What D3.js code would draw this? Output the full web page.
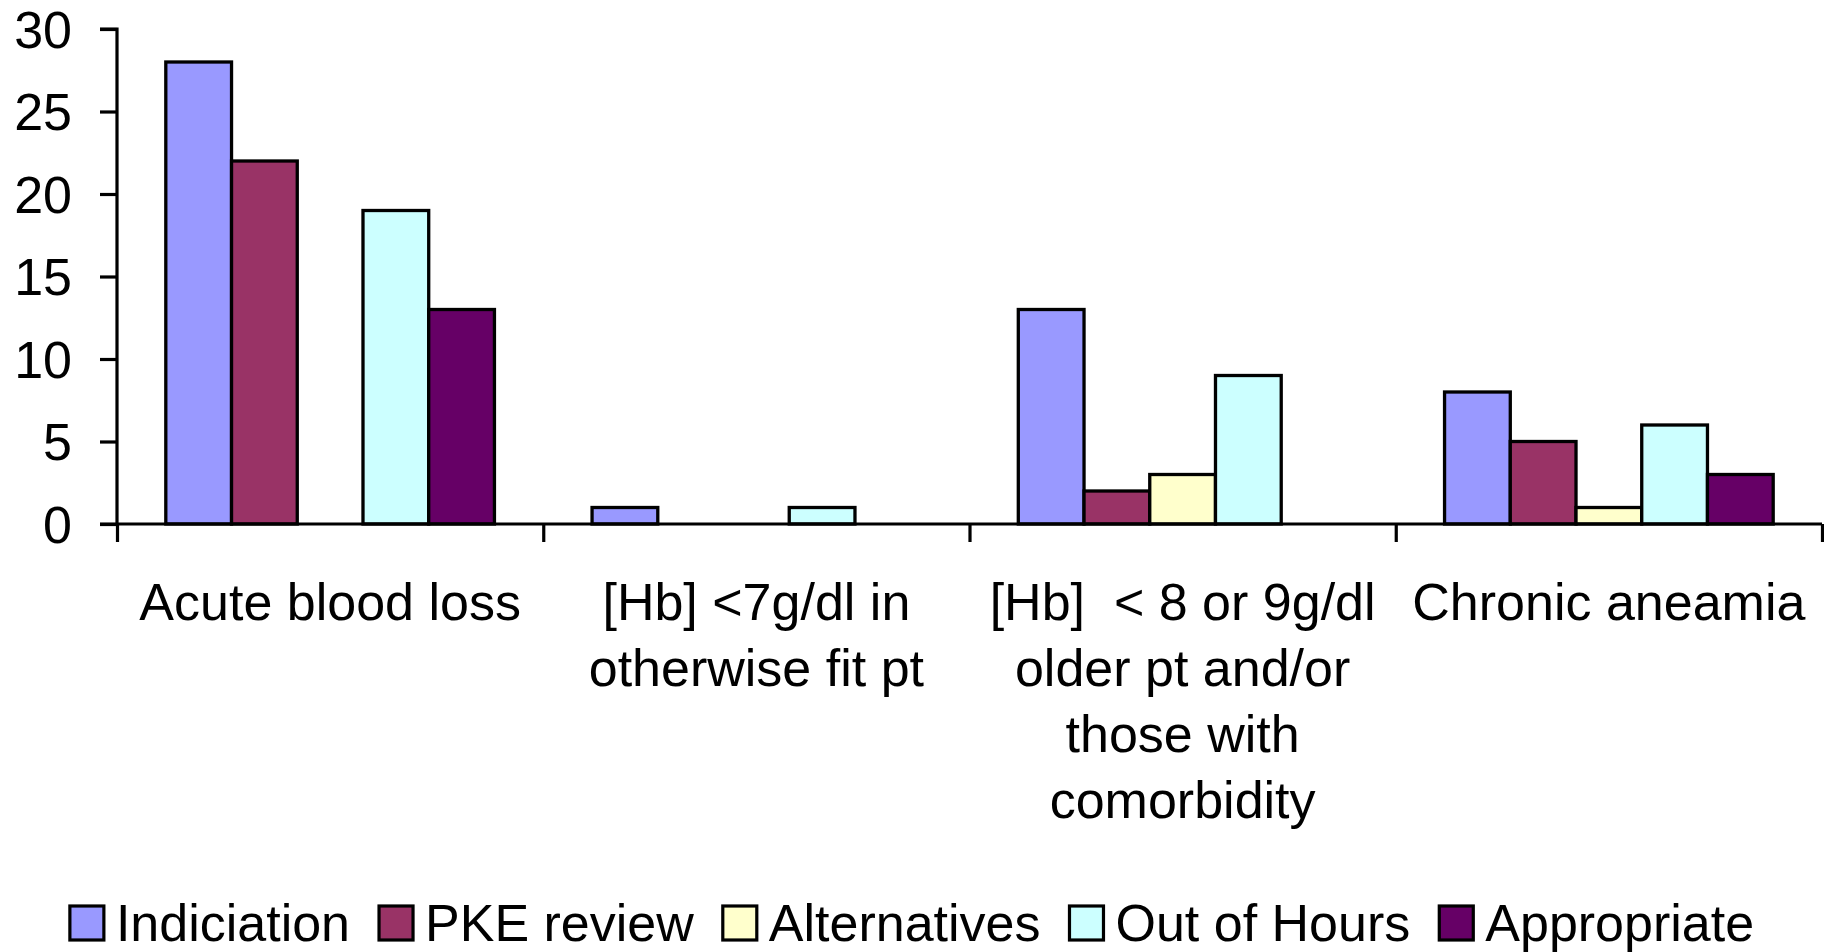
<!DOCTYPE html>
<html>
<head>
<meta charset="utf-8">
<script src="https://cdn.jsdelivr.net/npm/d3@7"></script>
<style>
  html, body { margin: 0; padding: 0; background: #fff; }
  svg { display: block; }
  text { font-family: "Liberation Sans", Arial, sans-serif; fill: #000; }
</style>
</head>
<body>
<svg id="chart" width="1824" height="952"></svg>
<script>
// ---- data ----
const categories = [
  ["Acute blood loss"],
  ["[Hb] <7g/dl in", "otherwise fit pt"],
  ["[Hb]  < 8 or 9g/dl", "older pt and/or", "those with", "comorbidity"],
  ["Chronic aneamia"]
];
const seriesNames = ["Indiciation", "PKE review", "Alternatives", "Out of Hours", "Appropriate"];
const seriesColors = ["#9999FF", "#993366", "#FFFFCC", "#CCFFFF", "#660066"];
const indiciation = [28, 1, 13, 8];
const pkeReview   = [22, 0, 2, 5];
const alternatives = [0, 0, 3, 1];
const outOfHours  = [19, 1, 9, 6];
const appropriate = [13, 0, 0, 3];
const yTicks = [0, 5, 10, 15, 20, 25, 30];

const seriesValues = [indiciation, pkeReview, alternatives, outOfHours, appropriate];

// ---- layout ----
const svg = d3.select("#chart");
const plotLeft = 117, plotRight = 1822, plotTop = 29, plotBottom = 524;
const fontSize = 52;

const catIdx = categories.map((c, i) => i);
const x0 = d3.scaleBand().domain(catIdx).range([plotLeft, plotRight]).padding(0);
const gap = x0.bandwidth() * 0.1145;
const x1 = d3.scaleBand().domain(d3.range(seriesNames.length)).range([gap, x0.bandwidth() - gap]).padding(0);
const y = d3.scaleLinear().domain([0, 30]).range([plotBottom, plotTop]);

// bars
const groups = svg.append("g").selectAll("g")
  .data(catIdx).join("g")
  .attr("transform", d => `translate(${x0(d)},0)`);

groups.selectAll("rect")
  .data(ci => seriesValues.map((vals, si) => ({ si, v: vals[ci] })).filter(d => d.v > 0))
  .join("rect")
  .attr("x", d => x1(d.si))
  .attr("y", d => y(d.v))
  .attr("width", x1.bandwidth())
  .attr("height", d => y(0) - y(d.v))
  .attr("fill", d => seriesColors[d.si])
  .attr("stroke", "#000")
  .attr("stroke-width", 3.3);

// y axis
const yAxis = d3.axisLeft(y).tickValues(yTicks).tickSize(17).tickPadding(28).tickFormat(d3.format("d"));
const gy = svg.append("g").attr("transform", `translate(${plotLeft},0)`).call(yAxis);
gy.select(".domain").attr("stroke", "#000").attr("stroke-width", 3.2).attr("d", `M-17,${plotTop}H0V${plotBottom}`);
gy.selectAll(".tick line").attr("stroke", "#000").attr("stroke-width", 3.2);
gy.selectAll(".tick text")
  .attr("font-size", fontSize)
  .attr("font-family", "Liberation Sans, Arial, sans-serif")
  .attr("fill", "#000")
  .attr("dy", "0.35em");

// x axis (category boundary ticks)
const boundaries = catIdx.map(i => x0(i)).concat([plotRight]);
const xEdge = d3.scaleLinear().domain([plotLeft, plotRight]).range([plotLeft, plotRight]);
const xAxis = d3.axisBottom(xEdge).tickValues(boundaries).tickSize(18).tickFormat("");
const gx = svg.append("g").attr("transform", `translate(0,${plotBottom})`).call(xAxis);
gx.select(".domain").attr("stroke", "#000").attr("stroke-width", 3.2).attr("d", `M${plotLeft - 17},0H${plotRight}`);
gx.selectAll(".tick line").attr("stroke", "#000").attr("stroke-width", 3.2);

// category labels
const lineH = 66;
const labels = svg.append("g").selectAll("text")
  .data(catIdx).join("text")
  .attr("x", d => x0(d) + x0.bandwidth() / 2)
  .attr("y", 620)
  .attr("text-anchor", "middle")
  .attr("font-size", fontSize)
  .style("white-space", "pre");
labels.selectAll("tspan")
  .data(d => categories[d].map((t, i) => ({ t, i, cx: x0(d) + x0.bandwidth() / 2 })))
  .join("tspan")
  .attr("x", d => d.cx)
  .attr("y", d => 620 + d.i * lineH)
  .text(d => d.t);

// legend
const sw = 34, swGap = 12, itemGap = 29;
const legend = svg.append("g");
const items = legend.selectAll("g").data(seriesNames).join("g");
items.append("rect")
  .attr("width", sw).attr("height", sw)
  .attr("y", 906)
  .attr("fill", (d, i) => seriesColors[i])
  .attr("stroke", "#000").attr("stroke-width", 3.2);
items.append("text")
  .attr("x", sw + swGap)
  .attr("y", 941)
  .attr("font-size", fontSize)
  .text(d => d);
let cursor = 0;
const offsets = [];
items.each(function () {
  offsets.push(cursor);
  const w = d3.select(this).select("text").node().getComputedTextLength();
  cursor += sw + swGap + w + itemGap;
});
const totalW = cursor - itemGap;
const startX = 912 - totalW / 2;
items.attr("transform", (d, i) => `translate(${startX + offsets[i]},0)`);
</script>
</body>
</html>
